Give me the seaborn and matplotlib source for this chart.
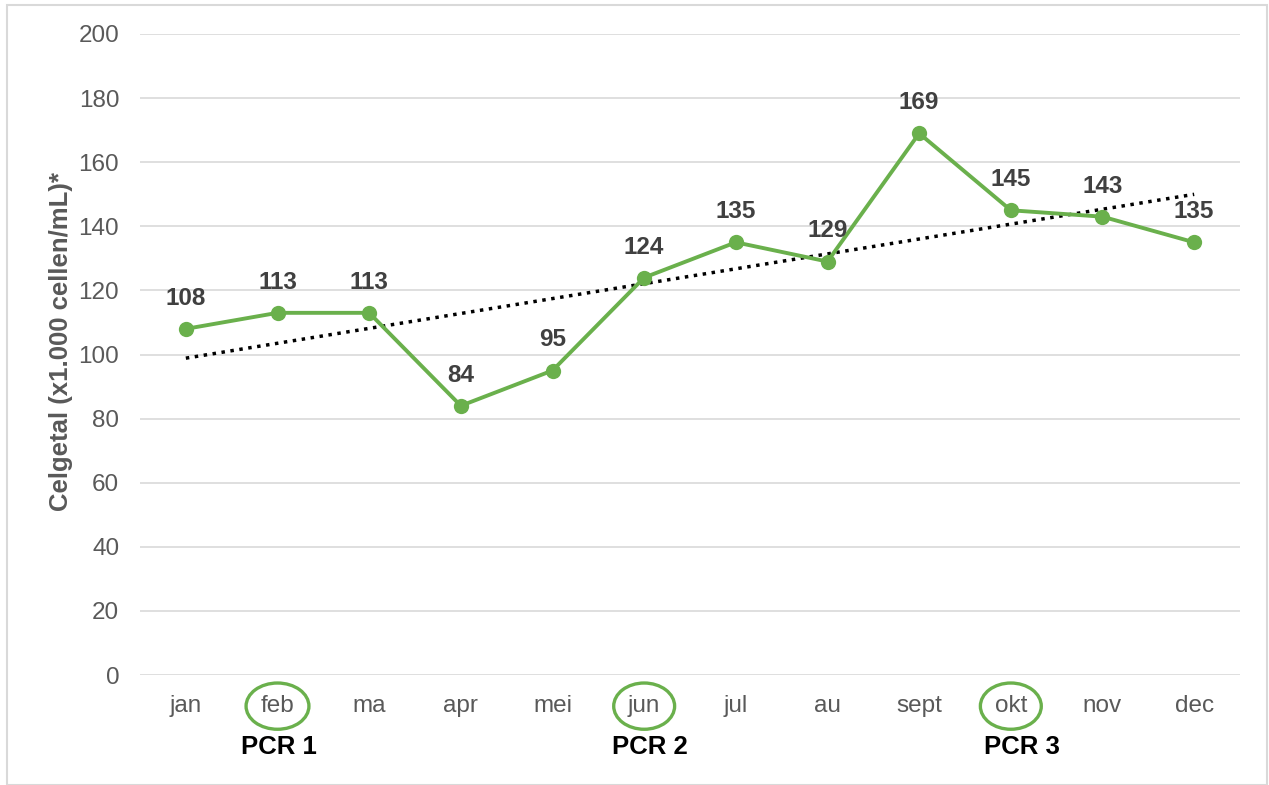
import numpy as np
import pandas as pd
import matplotlib
matplotlib.use("Agg")
import matplotlib.pyplot as plt
import seaborn as sns
from matplotlib.patches import Rectangle

months = ["jan", "feb", "ma", "apr", "mei", "jun", "jul", "au", "sept", "okt", "nov", "dec"]
values = [108, 113, 113, 84, 95, 124, 135, 129, 169, 145, 143, 135]
pcr_months = ["feb", "jun", "okt"]
pcr_labels = ["PCR 1", "PCR 2", "PCR 3"]
y_ticks = [0, 20, 40, 60, 80, 100, 120, 140, 160, 180, 200]
ylabel = "Celgetal (x1.000 cellen/mL)*"

# horizontal nudges (pt) of the PCR captions
pcr_dx = [1, 4, 8]

green = "#6ab04c"
gray_txt = "#595959"
dark_txt = "#404040"

sns.set_theme(style="white")
plt.rcParams["font.family"] = ["Liberation Sans", "DejaVu Sans"]

df = pd.DataFrame({"month": months, "x": np.arange(len(months)), "value": values})

fig = plt.figure(figsize=(12.69, 7.85), dpi=100)
ax = fig.add_axes([140/1269, 1 - 675/785, 1100/1269, 641/785])

# grid
for t in y_ticks:
    ax.axhline(t, color="#d9d9d9", lw=1.2, zorder=0)

# trendline (linear)
sns.regplot(data=df, x="x", y="value", scatter=False, ci=None, ax=ax, truncate=True,
            line_kws=dict(color="black", ls=(0, (1, 1.6)), lw=2.5, zorder=3))

sns.lineplot(data=df, x="x", y="value", ax=ax, color=green, lw=2.8, marker="o",
             markersize=11, markeredgewidth=0, zorder=4)

for xi, v in zip(df["x"], values):
    ax.annotate(str(v), (xi, v), xytext=(0, 22),
                textcoords="offset points", ha="center", va="center",
                fontsize=17.5, fontweight="bold", color=dark_txt, zorder=5)

ax.set_xlim(-0.5, len(months) - 0.5)
ax.set_ylim(0, 200)
ax.set_xticks(df["x"])
ax.set_xticklabels(months)
ax.set_yticks(y_ticks)
ax.tick_params(axis="x", length=0, pad=14.5, labelsize=17.5, labelcolor=gray_txt)
ax.tick_params(axis="y", length=0, pad=15, labelsize=17.5, labelcolor=gray_txt)
ax.set_xlabel("")
ax.set_ylabel(ylabel, fontsize=18.5, fontweight="bold", color=gray_txt)
ax.yaxis.set_label_coords(-0.061, 0.52)
for s in ax.spines.values():
    s.set_visible(False)

for lbl in ax.get_xticklabels():
    if lbl.get_text() in pcr_months:
        lbl.set_bbox(dict(boxstyle="ellipse,pad=0.22", fc="none", ec=green, lw=2.4))

for m, p, dx in zip(pcr_months, pcr_labels, pcr_dx):
    xi = months.index(m)
    ax.annotate(p, (xi, 0), xytext=(dx, -52),
                textcoords="offset points", ha="center", va="center",
                fontsize=18.5, fontweight="bold", color="black", annotation_clip=False)

fig.patches.append(Rectangle((7/1269, 0), 1260/1269, 1 - 5/785, transform=fig.transFigure,
                             fill=False, ec="#d9d9d9", lw=1.5))

fig.savefig("out.png", dpi=100, facecolor="white")
